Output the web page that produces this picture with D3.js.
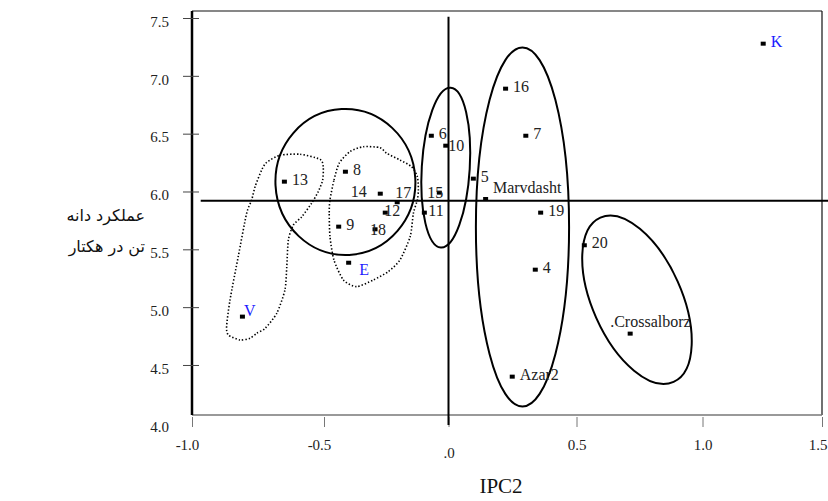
<!DOCTYPE html>
<html>
<head>
<meta charset="utf-8">
<script src="https://cdn.jsdelivr.net/npm/d3@7"></script>
<style>
    body { margin: 0; background: #fff; }
    svg { font-family: "Liberation Serif", "Times New Roman", serif; }
</style>
</head>
<body>
<svg id="chart" width="828" height="501"></svg>
<script>
// tick values
const xTicks = [-1.0, -0.5, 0.0, 0.5, 1.0, 1.5];
const yTicks = [4.0, 4.5, 5.0, 5.5, 6.0, 6.5, 7.0, 7.5];

// genotypes: name, IPC2, yield
const names = ["13", "8", "14", "17", "12", "11", "15", "6", "10", "5", "Marvdasht",
    "16", "7", "19", "K", "20", "4", ".Crossalborz", "Azar2", "9", "18", "E", "V"];
const ipc2 = [-0.650, -0.414, -0.274, -0.206, -0.254, -0.097, -0.037, -0.069, -0.011, 0.097, 0.145,
    0.223, 0.302, 0.360, 1.254, 0.531, 0.339, 0.713, 0.249, -0.441, -0.295, -0.401, -0.809];
const yieldT = [6.085, 6.171, 5.981, 5.907, 5.817, 5.817, 5.990, 6.482, 6.396, 6.111, 5.935,
    6.889, 6.482, 5.817, 7.278, 5.535, 5.324, 4.771, 4.399, 5.696, 5.673, 5.384, 4.918];
const checks = ["K", "E", "V"];

// mean lines
const meanYield = 5.92;
const meanIpc2 = 0.0;

// group ellipses: centre (ipc2, yield), semi axes (ipc2 units, yield units), tilt in degrees
const ellCx = [-0.414, -0.011, 0.289, 0.740];
const ellCy = [6.082, 6.206, 5.693, 5.064];
const ellRx = [0.281, 0.094, 0.182, 0.177];
const ellRy = [0.631, 0.692, 1.552, 0.778];
const ellTilt = [-3, 3.5, 0, -24];

// dotted outlines (ipc2, yield)
const outlineA = [[-0.717, 6.252], [-0.667, 6.313], [-0.591, 6.322], [-0.515, 6.278], [-0.503, 6.214],
    [-0.505, 6.099], [-0.522, 5.998], [-0.547, 5.898], [-0.584, 5.782], [-0.616, 5.710], [-0.635, 5.581],
    [-0.641, 5.350], [-0.648, 5.148], [-0.679, 4.947], [-0.723, 4.817], [-0.755, 4.774], [-0.780, 4.731],
    [-0.818, 4.716], [-0.862, 4.759], [-0.869, 4.831], [-0.856, 5.062], [-0.825, 5.436], [-0.793, 5.812],
    [-0.774, 5.927], [-0.761, 6.042], [-0.736, 6.186]];
const outlineB = [[-0.476, 5.927], [-0.460, 6.099], [-0.439, 6.244], [-0.396, 6.344], [-0.342, 6.387],
    [-0.275, 6.379], [-0.248, 6.330], [-0.195, 6.272], [-0.148, 6.214], [-0.125, 6.128], [-0.121, 6.013],
    [-0.125, 5.927], [-0.141, 5.812], [-0.154, 5.609], [-0.195, 5.408], [-0.242, 5.307], [-0.302, 5.235],
    [-0.369, 5.177], [-0.422, 5.235], [-0.460, 5.408], [-0.476, 5.609], [-0.479, 5.812]];

const svg = d3.select("#chart");

// the original axis is not quite evenly spaced, so map each tick
const x = d3.scaleLinear().domain(xTicks).range([192, 324, 448.5, 576.5, 702.5, 822]);
const y = d3.scaleLinear().domain([4.0, 7.5]).range([422.8, 18]);
const frameL = 192, frameR = 822, frameT = 11, frameB = 415;

// frame
svg.append("line").attr("x1", frameL).attr("x2", frameR).attr("y1", frameT).attr("y2", frameT)
    .attr("stroke", "#111").attr("stroke-width", 1.2);
svg.append("line").attr("x1", frameR).attr("x2", frameR).attr("y1", frameT).attr("y2", frameB)
    .attr("stroke", "#111").attr("stroke-width", 1.2);
svg.append("line").attr("x1", frameL).attr("x2", frameR).attr("y1", frameB).attr("y2", frameB)
    .attr("stroke", "#777").attr("stroke-width", 1.5);

// y axis
const yAxis = svg.append("g").attr("transform", "translate(" + frameL + ",0)")
    .call(d3.axisLeft(y).tickValues(yTicks).tickFormat(d3.format(".1f")).tickSize(9).tickPadding(14));
yAxis.select(".domain").attr("d", "M0," + frameT + "V" + frameB).attr("stroke", "#000").attr("stroke-width", 2.5);
yAxis.selectAll(".tick line").attr("x2", -9).attr("x1", 7).attr("stroke", "#444")
    .attr("opacity", function (d) { return d < 4.5 ? 0 : 1; });
yAxis.selectAll(".tick text").attr("font-size", 15).attr("fill", "#222").attr("dy", "0.55em")
    .attr("font-family", "Liberation Serif");

// x axis
const xAxis = svg.append("g").attr("transform", "translate(0," + frameB + ")")
    .call(d3.axisBottom(x).tickValues(xTicks)
        .tickFormat(function (d) { return d === 0 ? ".0" : d3.format(".1f")(d).replace("−", "-"); })
        .tickSize(12).tickPadding(12));
xAxis.select(".domain").remove();
xAxis.selectAll(".tick line").attr("y1", 2).attr("stroke", "#777");
xAxis.selectAll(".tick text").attr("font-size", 15).attr("fill", "#222")
    .attr("font-family", "Liberation Serif")
    .attr("dy", function (d) { return d === 0 ? "1.25em" : "0.75em"; })
    .attr("text-anchor", function (d) { return d === 1.5 ? "end" : "middle"; })
    .attr("x", function (d) { return d === 1.5 ? 5 : d < 0 ? -5 : 0; });

// mean lines
svg.append("line").attr("x1", x(-0.967)).attr("x2", 828).attr("y1", y(meanYield)).attr("y2", y(meanYield))
    .attr("stroke", "#000").attr("stroke-width", 2);
svg.append("line").attr("x1", x(meanIpc2)).attr("x2", x(meanIpc2)).attr("y1", y(7.51)).attr("y2", y(3.98))
    .attr("stroke", "#000").attr("stroke-width", 2);

// ellipses
ellCx.forEach(function (cx, i) {
    const px = x(cx), py = y(ellCy[i]);
    svg.append("ellipse")
        .attr("cx", px).attr("cy", py)
        .attr("rx", Math.abs(x(cx + ellRx[i]) - px))
        .attr("ry", Math.abs(y(ellCy[i] + ellRy[i]) - py))
        .attr("transform", "rotate(" + ellTilt[i] + "," + px + "," + py + ")")
        .attr("fill", "none").attr("stroke", "#000").attr("stroke-width", 2);
});

// dotted outlines
const outline = d3.line()
    .x(function (d) { return x(d[0]); })
    .y(function (d) { return y(d[1]); })
    .curve(d3.curveCardinalClosed.tension(0.3));
[outlineA, outlineB].forEach(function (pts) {
    svg.append("path").attr("d", outline(pts))
        .attr("fill", "none").attr("stroke", "#000").attr("stroke-width", 1.6)
        .attr("stroke-dasharray", "1.4,2");
});

// label offsets from the marker (px), most labels sit just right of it
const labelOffset = {
    "14": [-13.5, -2, "end"], "17": [-2, -10], "12": [-1, -2.7], "11": [4, -2.7], "15": [-12, -0.7],
    "10": [2.6, 0], "Marvdasht": [7.3, -12], ".Crossalborz": [-20, -12], "18": [-5, 0],
    "E": [10.6, 6.6], "V": [1.7, -6]
};

const pts = svg.append("g");
names.forEach(function (n, i) {
    const px = x(ipc2[i]), py = y(yieldT[i]);
    pts.append("rect").attr("x", px - 2.5).attr("y", py - 2).attr("width", 5).attr("height", 4)
        .attr("fill", "#000");
    const off = labelOffset[n] || [7.5, -2.5];
    pts.append("text").attr("x", px + off[0]).attr("y", py + off[1]).attr("dy", "0.35em")
        .attr("text-anchor", off[2] || "start")
        .attr("font-size", 16)
        .attr("fill", checks.includes(n) ? "#1c1cff" : "#222")
        .text(n);
});

// axis titles
svg.append("text").attr("x", 501).attr("y", 486).attr("dy", "0.35em").attr("text-anchor", "middle")
    .attr("font-size", 21).attr("fill", "#111").text("IPC2");
const yTitle = svg.append("g").attr("font-family", "DejaVu Sans").attr("font-size", 16).attr("fill", "#111");
yTitle.append("text").attr("x", 145).attr("y", 215).attr("dy", "0.35em").attr("direction", "rtl")
    .attr("text-anchor", "start").text("عملکرد دانه");
yTitle.append("text").attr("x", 145).attr("y", 246).attr("dy", "0.35em").attr("direction", "rtl")
    .attr("text-anchor", "start").text("تن در هکتار");
</script>
</body>
</html>
